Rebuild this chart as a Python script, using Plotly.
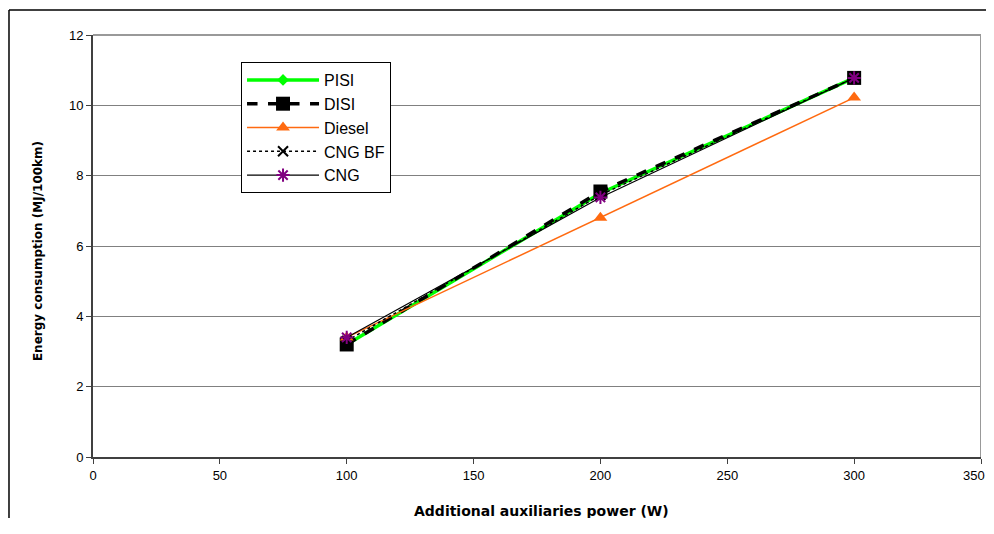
import plotly.graph_objects as go

power = [100, 200, 300]
pisi = [3.2, 7.5, 10.78]
disi = [3.2, 7.55, 10.78]
diesel = [3.4, 6.8, 10.22]
cng_bf = [3.3, 7.45, 10.78]
cng = [3.4, 7.38, 10.78]

x_ticks = [0, 50, 100, 150, 200, 250, 300, 350]
x_tick_labels = ["0", "50", "100", "150", "200", "250", "300", "350"]
y_ticks = [0, 2, 4, 6, 8, 10, 12]
x_title = "Additional auxiliaries power (W)"
y_title = "Energy consumption (MJ/100km)"

fig = go.Figure()
fig.add_trace(go.Scatter(x=power, y=pisi, name="PISI", mode="lines+markers",
                         line=dict(color="#00FF00", width=3.5),
                         marker=dict(symbol="diamond", size=9, color="#00FF00")))
fig.add_trace(go.Scatter(x=power, y=disi, name="DISI", mode="lines+markers",
                         line=dict(color="black", width=3.5, dash="dash"),
                         marker=dict(symbol="square", size=14, color="black")))
fig.add_trace(go.Scatter(x=power, y=diesel, name="Diesel", mode="lines+markers",
                         line=dict(color="#FF6A10", width=1.5),
                         marker=dict(symbol="triangle-up", size=12, color="#FF6A10")))
fig.add_trace(go.Scatter(x=power, y=cng_bf, name="CNG BF", mode="lines+markers",
                         line=dict(color="black", width=1.5, dash="dot"),
                         marker=dict(symbol="x-thin-open", size=10, color="black",
                                     line=dict(color="black", width=2))))
fig.add_trace(go.Scatter(x=power, y=cng, name="CNG", mode="lines+markers",
                         line=dict(color="black", width=1.2),
                         marker=dict(symbol="asterisk-open", size=11, color="#800080",
                                     line=dict(color="#800080", width=2))))

# last x tick label drawn as an annotation so it stays inside the visible page
axis_labels = x_tick_labels[:-1] + [""]

fig.update_layout(
    width=986, height=510,
    margin=dict(l=85, r=13, t=27, b=61, autoexpand=False),
    paper_bgcolor="white", plot_bgcolor="white",
    font=dict(family="Liberation Sans, Arial, sans-serif", color="black"),
    showlegend=True,
    legend=dict(x=0.1667, y=0.936, xanchor="left", yanchor="top",
                bgcolor="white", bordercolor="black", borderwidth=1,
                font=dict(size=16, family="Liberation Sans, Arial, sans-serif"),
                itemwidth=72, tracegroupgap=0),
    xaxis=dict(range=[0, 350], tickvals=x_ticks, ticktext=axis_labels,
               ticks="outside", ticklen=5,
               tickcolor="#404040", showline=True, linecolor="#404040", linewidth=2,
               showgrid=False, zeroline=False, tickfont=dict(size=13), automargin=False),
    yaxis=dict(range=[0, 12], tickvals=y_ticks, ticks="outside", ticklen=5,
               tickcolor="#404040", showline=True, linecolor="#404040", linewidth=2,
               showgrid=True, gridcolor="#808080", gridwidth=1, zeroline=False,
               tickfont=dict(size=13), automargin=False),
    annotations=[
        dict(text=x_tick_labels[-1], xref="x", yref="paper", x=x_ticks[-1], y=-0.043,
             xanchor="right", yanchor="middle", xshift=6, showarrow=False,
             font=dict(size=13, family="Liberation Sans, Arial, sans-serif")),
        dict(text="<b>" + x_title + "</b>", xref="paper", yref="paper", x=0.505, y=-0.128,
             xanchor="center", yanchor="middle", showarrow=False,
             font=dict(size=14, family="DejaVu Sans, sans-serif")),
        dict(text="<b>" + y_title + "</b>", xref="paper", yref="paper", x=-0.0619, y=0.488,
             xanchor="center", yanchor="middle", showarrow=False, textangle=-90,
             font=dict(size=12, family="DejaVu Sans, sans-serif")),
    ],
    shapes=[
        dict(type="line", xref="x", yref="paper", x0=350, x1=350, y0=0, y1=1,
             line=dict(color="#999999", width=2)),
        dict(type="line", xref="paper", yref="paper", x0=0, x1=1, y0=1, y1=1,
             line=dict(color="#999999", width=2)),
        dict(type="line", xref="paper", yref="paper", x0=-0.0946, x1=1.02, y0=1.0592, y1=1.0592,
             line=dict(color="black", width=1.5)),
        dict(type="line", xref="paper", yref="paper", x0=-0.0946, x1=-0.0946, y0=1.0592, y1=-0.2,
             line=dict(color="black", width=1.5)),
    ],
)

fig.write_html("out.html")
